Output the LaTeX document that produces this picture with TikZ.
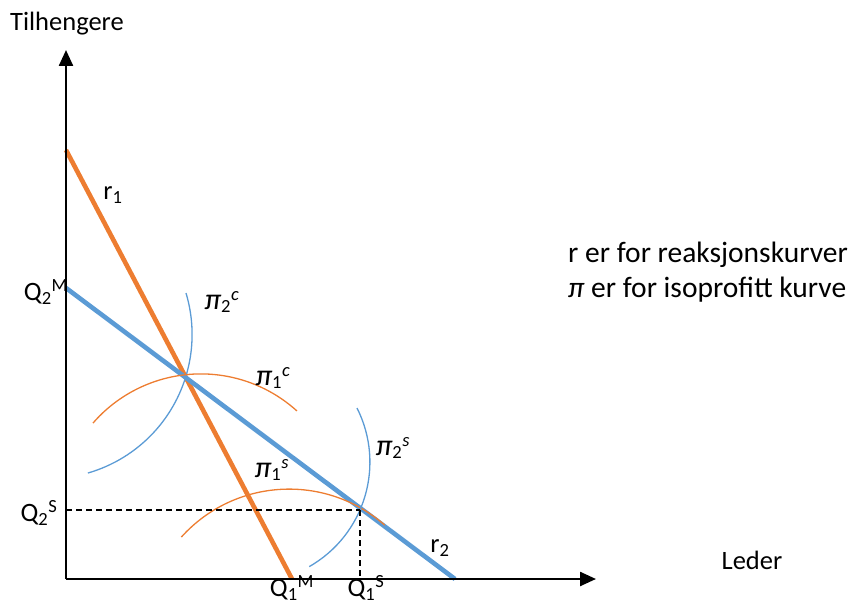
\documentclass[tikz,border=0pt]{standalone}
\usepackage{fontspec}
\setmainfont{Carlito}
\usetikzlibrary{arrows.meta}
\definecolor{orng}{HTML}{ED7D31}
\definecolor{blu}{HTML}{5B9BD5}
\newcommand{\pitxt}[2]{{\itshape\fontsize{30}{34}\selectfont π}\textsubscript{#1}\textsuperscript{\itshape #2}}
\begin{document}
\begin{tikzpicture}[x=1pt,y=-1pt,
  every node/.style={font=\fontsize{26.5}{31}\selectfont, inner sep=0pt},
  legend/.style={font=\fontsize{29.5}{34}\selectfont, anchor=west},
  axis/.style={line width=2.4pt, -{Triangle[length=16pt,width=14pt]}},
  rline/.style={line width=4.6pt},
  iso/.style={line width=1.3pt},
  guide/.style={line width=1.1pt, dash pattern=on 6pt off 4pt}]
\useasboundingbox (0,0) rectangle (854,604);
\coordinate (O) at (66,579);
\coordinate (ytop) at (66,50);
\coordinate (xend) at (596,579);
\coordinate (r1a) at (66,150);
\coordinate (r1b) at (292,579);
\coordinate (r2a) at (66,288);
\coordinate (r2b) at (455,579);
\coordinate (S) at (360,510);
\coordinate (SY) at (66,510);
\coordinate (SX) at (360,579);
% reaction curves
\draw[rline, orng] (r1a) -- (r1b);
\draw[rline, blu] (r2a) -- (r2b);
% isoprofit curves
\draw[iso, blu] ([shift={(-16.7:144.2)}]47.9,334.5) arc[start angle=-16.7, end angle=73.9, radius=144.2];
\draw[iso, orng] ([shift={(-139:143)}]200.9,516.9) arc[start angle=-139, end angle=-47.8, radius=143];
\draw[iso, orng] ([shift={(-138:145)}]289.1,634.1) arc[start angle=-138, end angle=-48.7, radius=145];
\draw[iso, blu] ([shift={(-26.8:120.2)}]249.7,462.2) arc[start angle=-26.8, end angle=60.3, radius=120.2];
% guides
\draw[guide] (SY) -- (S);
\draw[guide] (S) -- (SX);
% axes
\draw[axis] (O) -- (ytop);
\draw[axis] (O) -- (xend);
% labels
\node (ylab) at (67,24) {Tilhengere};
\node (xlab) at (752,560) {Leder};
\node (r1l) at (113,195) {r\textsubscript{1}};
\node (r2l) at (440,548) {r\textsubscript{2}};
\node (q2m) at (46,292) {Q\textsubscript{2}\textsuperscript{M}};
\node (q2s) at (39,513) {Q\textsubscript{2}\textsuperscript{S}};
\node (q1m) at (292,588) {Q\textsubscript{1}\textsuperscript{M}};
\node (q1s) at (366,588) {Q\textsubscript{1}\textsuperscript{S}};
\node (p2c) at (222,302) {\pitxt{2}{c}};
\node (p1c) at (273,378) {\pitxt{1}{c}};
\node (p1s) at (272,470) {\pitxt{1}{s}};
\node (p2s) at (393,448) {\pitxt{2}{s}};
\node[legend] (leg1) at (568,255) {r er for reaksjonskurver};
\node[legend] (leg2) at (568,290) {{\itshape π} er for isoprofitt kurve};
\end{tikzpicture}
\end{document}
